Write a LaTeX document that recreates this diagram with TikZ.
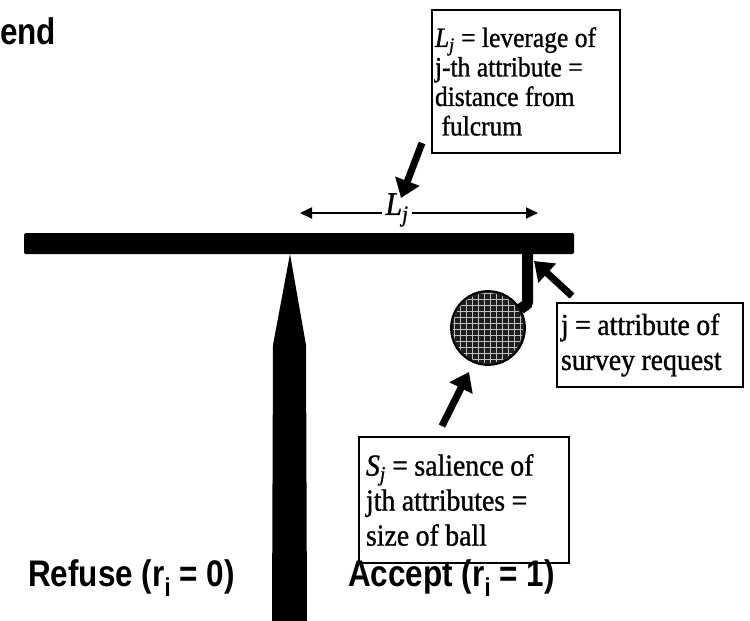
\documentclass[tikz,border=0pt]{standalone}
\usepackage{fontspec}
\setmainfont{Liberation Serif}
\newfontfamily\boxfont{Liberation Serif}[FakeStretch=0.91, FakeBold=1]
\newfontfamily\bsans{Liberation Sans}[FakeStretch=0.85]
\newcommand\tightsp{\spaceskip=6.5pt plus 1.5pt\relax}
\usetikzlibrary{arrows.meta}
\tikzset{
  lbox/.style={draw=black, line width=1.8pt, align=left, inner ysep=2pt,
               font=\boxfont\fontsize{30.5}{35}\selectfont,
               execute at begin node=\tightsp},
  bigarrow/.style={line width=7pt, -{Triangle[length=18pt,width=25pt]}},
  thinarrow/.style={line width=1.8pt, -{Triangle[length=12pt,width=11pt]}},
  blabel/.style={font=\bsans\bfseries\fontsize{37}{40}\selectfont, inner sep=0pt}
}
\begin{document}
\begin{tikzpicture}[x=1pt,y=-1pt]
\useasboundingbox (0,0) rectangle (750,621);
% beam
\fill[black, rounded corners=1.5pt] (24,233) rectangle (574,254);
% fulcrum
\fill[black] (290,254) -- (306,345) -- (307,621) -- (272,621) -- (273,345) -- cycle;
% ball
\node[circle, minimum size=74pt, inner sep=0pt, fill=black!88] (ball) at (488,328) {};
\begin{scope}
  \clip (488,328) circle (35pt);
  \foreach \k in {0,...,13} {
    \draw[white!75!black, line width=0.6pt] (454+\k*6,288) -- (454+\k*6,368);
    \draw[white!75!black, line width=0.6pt] (448,293+\k*6) -- (528,293+\k*6);
  }
\end{scope}
\draw[black, line width=1.8pt] (ball) circle (37pt);
% hanger
\coordinate (hangtop) at (527.5,254);
\coordinate (hangbend) at (527.5,302);
\draw[line width=11pt] (hangtop) -- (hangbend) to[out=-90,in=55] (ball.30);
% L_j dimension arrow
\node[inner sep=3pt, font=\boxfont\fontsize{33}{34}\selectfont] (Llab) at (397,210) {\textit{L}\textsubscript{\textit{j}}};
\coordinate (Lleft) at (300,213);
\coordinate (Lright) at (538,213);
\draw[thinarrow] (Llab.west |- Lleft) -- (Lleft);
\draw[thinarrow] (Llab.east |- Lright) -- (Lright);
% top box
\node[lbox, minimum width=188pt, minimum height=143pt, text width=182pt, inner xsep=3pt,
      font=\boxfont\fontsize{28}{29.5}\selectfont] (topbox) at (526,81.5)
  {\textit{L}\textsubscript{\textit{j}} = leverage of\\ j-th attribute =\\ distance from\\ \ fulcrum};
\coordinate (toptail) at (422,143);
\coordinate (toptip) at (401,198);
\draw[bigarrow] (toptail) -- (toptip);
% j box
\node[lbox, minimum width=186pt, minimum height=84pt, text width=178pt, inner xsep=4pt] (jbox) at (650,345)
  {j = attribute of\\ survey request};
\coordinate (jtail) at (572,296);
\coordinate (jtip) at (534,261);
\draw[bigarrow] (jtail) -- (jtip);
% S box
\node[lbox, minimum width=210pt, minimum height=126pt, text width=196pt, inner xsep=7pt] (sbox) at (464,500)
  {\textit{S}\textsubscript{\textit{j}} = salience of\\ jth attributes =\\ size of ball};
\coordinate (stail) at (442,426);
\coordinate (stip) at (469,372);
\draw[bigarrow] (stail) -- (stip);
% labels
\node[blabel, anchor=west] (refuse) at (28,578) {Refuse (r\textsubscript{i} = 0)};
\node[blabel, anchor=west] (accept) at (348,578) {Accept (r\textsubscript{i} = 1)};
\node[blabel, anchor=base west] (legend) at (0,45) {end};
\end{tikzpicture}
\end{document}
